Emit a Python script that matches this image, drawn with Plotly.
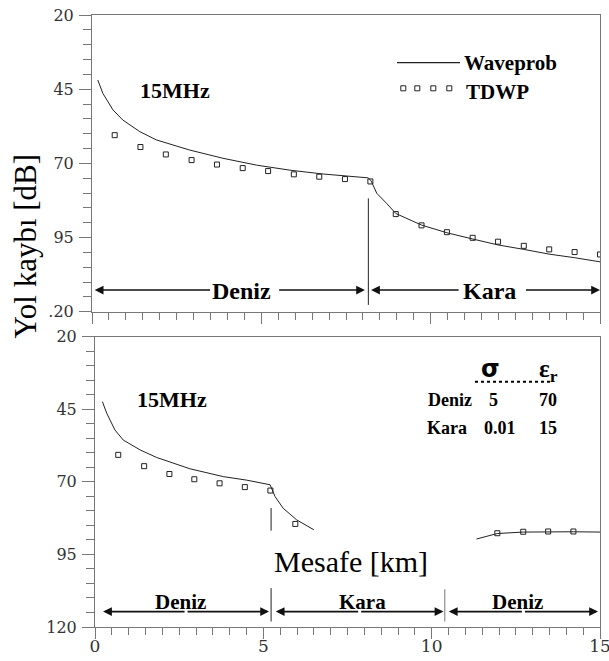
import plotly.graph_objects as go

# ---------------- data ----------------
top_wave_x = [0.17, 0.32, 0.62, 0.91, 1.41, 1.90, 2.88, 3.87, 4.86, 5.84, 6.83, 7.95, 8.16,
              8.24, 8.41, 8.70, 8.97, 9.73, 10.48, 11.24, 11.99, 12.75, 13.50, 14.25, 15.0]
top_wave_y = [41.9, 46.4, 52.0, 55.4, 59.3, 62.1, 65.5, 68.3, 70.6, 72.3, 73.6, 74.7, 74.9,
              75.9, 80.1, 83.5, 86.9, 90.8, 93.4, 95.5, 97.5, 99.0, 100.6, 101.8, 103.2]

top_tdwp_x = [0.67, 1.43, 2.18, 2.94, 3.69, 4.45, 5.20, 5.96, 6.71, 7.47, 8.22,
              8.97, 9.73, 10.48, 11.24, 11.99, 12.75, 13.50, 14.25, 15.0]
top_tdwp_y = [60.5, 64.5, 67.0, 68.9, 70.4, 71.6, 72.6, 73.7, 74.5, 75.3, 76.1,
              87.1, 90.9, 93.2, 95.1, 96.4, 97.8, 99.0, 99.9, 100.7]

bot_wave_x = [0.22, 0.35, 0.59, 0.84, 1.34, 1.83, 2.82, 3.81, 4.50, 5.20, 5.35, 5.59, 5.99, 6.50,
              None, 11.33, 11.95, 12.72, 13.46, 14.21, 15.0]
bot_wave_y = [42.4, 46.4, 52.1, 55.6, 59.0, 61.6, 65.5, 68.2, 69.4, 71.0, 75.1, 79.1, 83.1, 86.5,
              None, 89.7, 87.8, 87.3, 87.2, 87.2, 87.3]

bot_tdwp_x = [0.69, 1.46, 2.21, 2.95, 3.70, 4.45, 5.21, 5.95, 11.95, 12.72, 13.46, 14.21]
bot_tdwp_y = [60.7, 64.6, 67.3, 69.1, 70.5, 71.8, 73.0, 84.5, 87.7, 87.2, 87.1, 87.1]

y_tick0, y_dtick = 20, 25
x_tick0, x_dtick = 0, 5

# ---------------- figure ----------------
W, H = 609, 661
ML, MR, MT, MB = 92, 9, 15, 34
PW, PH = W - ML - MR, H - MT - MB


def px(p):   # screen pixel x -> paper
    return (p - ML) / PW


def py(p):   # screen pixel y -> paper
    return (H - MB - p) / PH


LINE_C = "#222222"
AX_C = "#777777"
SERIF = "Liberation Serif"
TICKF = dict(family="DejaVu Serif", size=16, color="#333333")

fig = go.Figure()

fig.add_trace(go.Scatter(x=top_wave_x, y=top_wave_y, mode="lines",
                         line=dict(color=LINE_C, width=1), xaxis="x", yaxis="y",
                         name="Waveprob", showlegend=False))
fig.add_trace(go.Scatter(x=top_tdwp_x, y=top_tdwp_y, mode="markers",
                         marker=dict(symbol="square-open", size=5, color=LINE_C,
                                     line=dict(width=1, color=LINE_C)),
                         xaxis="x", yaxis="y", name="TDWP", showlegend=False))
fig.add_trace(go.Scatter(x=bot_wave_x, y=bot_wave_y, mode="lines",
                         line=dict(color=LINE_C, width=1), xaxis="x2", yaxis="y2",
                         connectgaps=False, showlegend=False))
fig.add_trace(go.Scatter(x=bot_tdwp_x, y=bot_tdwp_y, mode="markers",
                         marker=dict(symbol="square-open", size=5, color=LINE_C,
                                     line=dict(width=1, color=LINE_C)),
                         xaxis="x2", yaxis="y2", showlegend=False))

common_x = dict(range=[0, 15], tickmode="linear", tick0=x_tick0, dtick=x_dtick,
                ticks="outside", ticklen=11, tickwidth=1, tickcolor=AX_C,
                minor=dict(dtick=0.5, tick0=0, ticks="outside", ticklen=7, tickcolor=AX_C),
                showline=True, linecolor=AX_C, linewidth=1, mirror=True, automargin=False,
                showgrid=False, zeroline=False, ticklabeloverflow="allow",
                tickfont=dict(family="DejaVu Serif", size=17, color="#333333"))
common_y = dict(range=[120, 20], tickmode="linear", tick0=y_tick0, dtick=y_dtick,
                ticks="outside", ticklen=12, tickwidth=1, tickcolor=AX_C,
                minor=dict(dtick=5, tick0=20, ticks="outside", ticklen=8, tickcolor=AX_C),
                showline=True, linecolor=AX_C, linewidth=1, mirror=True, automargin=False,
                showgrid=False, zeroline=False, tickfont=TICKF, ticklabelstandoff=2,
                ticklabeloverflow="allow")

fig.update_layout(
    width=W, height=H, margin=dict(l=ML, r=MR, t=MT, b=MB, autoexpand=False),
    paper_bgcolor="white", plot_bgcolor="white", showlegend=False,
    xaxis=dict(common_x, domain=[0.0, 1.0], anchor="y", showticklabels=False),
    yaxis=dict(common_y, domain=[py(311.7), 1.0], anchor="x", labelalias={"120": ".20"}),
    xaxis2=dict(common_x, domain=[px(95), 1.0], anchor="y2", ticklabelstandoff=-7),
    yaxis2=dict(common_y, domain=[0.0, py(336.7)], anchor="x2"),
)

shapes = []
ann = []

# boundary lines
shapes.append(dict(type="line", xref="x", yref="y", x0=8.16, x1=8.16, y0=81.8, y1=117.7,
                   line=dict(color=LINE_C, width=1)))
shapes.append(dict(type="line", xref="x2", yref="y2", x0=5.23, x1=5.23, y0=79.0, y1=86.8,
                   line=dict(color=LINE_C, width=1)))
shapes.append(dict(type="line", xref="x2", yref="y2", x0=5.23, x1=5.23, y0=106.6, y1=118.1,
                   line=dict(color=LINE_C, width=1)))
shapes.append(dict(type="line", xref="x2", yref="y2", x0=10.39, x1=10.39, y0=107.0, y1=118.1,
                   line=dict(color=AX_C, width=1)))


def arrow(xr, yr, x_head, x_tail, y):
    ann.append(dict(xref=xr, yref=yr, axref=xr, ayref=yr, x=x_head, y=y, ax=x_tail, ay=y,
                    text="", showarrow=True, arrowhead=2, arrowsize=1.1, arrowwidth=1.6,
                    arrowcolor="#111111", standoff=0, startstandoff=0,
                    font=dict(size=10)))


def label(xr, yr, x, y, txt, size, bold=True, family=SERIF, **kw):
    d = dict(xref=xr, yref=yr, x=x, y=y, text=("<b>" + txt + "</b>") if bold else txt,
             showarrow=False, xanchor="center", yanchor="middle",
             font=dict(family=family, size=size, color="black"))
    d.update(kw)
    ann.append(d)


# top region arrows
arrow("x", "y", 0.08, 3.53, 112.7)
arrow("x", "y", 8.06, 5.48, 112.7)
arrow("x", "y", 8.24, 10.87, 112.7)
arrow("x", "y", 15.0, 12.77, 112.7)
label("x", "y", 4.41, 113.0, "Deniz", 24)
label("x", "y", 11.73, 113.0, "Kara", 24)

# bottom region arrows
for a, b in [(0.24, 5.17), (5.37, 10.35), (10.51, 14.94)]:
    m = (a + b) / 2
    arrow("x2", "y2", a, m, 114.7)
    arrow("x2", "y2", b, m, 114.7)
label("x2", "y2", 2.54, 111.4, "Deniz", 21)
label("x2", "y2", 7.96, 111.4, "Kara", 21)
label("x2", "y2", 12.56, 111.4, "Deniz", 21)

# frequency labels
label("x", "y", 2.46, 45.3, "15MHz", 22)
label("x2", "y2", 2.28, 41.8, "15MHz", 22)

# legend (top panel)
shapes.append(dict(type="line", xref="paper", yref="paper", x0=px(397), x1=px(460),
                   y0=py(62.7), y1=py(62.7), line=dict(color=LINE_C, width=1.2)))
for cx in [403.3, 417.3, 433.3, 449.3]:
    shapes.append(dict(type="rect", xref="paper", yref="paper", xsizemode="pixel",
                       ysizemode="pixel", xanchor=px(cx), yanchor=py(88.3),
                       x0=-2.5, x1=2.5, y0=-2.5, y1=2.5,
                       line=dict(color=LINE_C, width=1), fillcolor="white"))
label("paper", "paper", px(462), py(63), "Waveprob", 21, xanchor="left")
label("paper", "paper", px(464), py(91.7), "TDWP", 21, xanchor="left")

# table (bottom panel)
label("paper", "paper", px(490), py(369), "σ", 24, family="DejaVu Sans")
label("paper", "paper", px(548), py(371), "ε<sub>r</sub>", 25)
shapes.append(dict(type="line", xref="paper", yref="paper", x0=px(475), x1=px(552),
                   y0=py(381.7), y1=py(381.7), line=dict(color="black", width=2, dash="dot")))
label("paper", "paper", px(450.3), py(400), "Deniz", 18)
label("paper", "paper", px(493.3), py(400), "5", 18)
label("paper", "paper", px(547.7), py(400), "70", 18)
label("paper", "paper", px(447.3), py(428.3), "Kara", 18)
label("paper", "paper", px(500), py(428.3), "0.01", 18)
label("paper", "paper", px(547.7), py(428.3), "15", 18)

# axis titles
label("paper", "paper", px(25), py(246.5), "Yol kaybı [dB]", 31, bold=False, textangle=-90)
label("x2", "y2", 7.59, 97.6, "Mesafe [km]", 30, bold=False)

fig.update_layout(shapes=shapes, annotations=ann)
fig.write_html("out.html",
               config={"displayModeBar": False},
               post_script="document.body.style.margin='0px';"
                           "document.body.style.overflow='hidden';")
